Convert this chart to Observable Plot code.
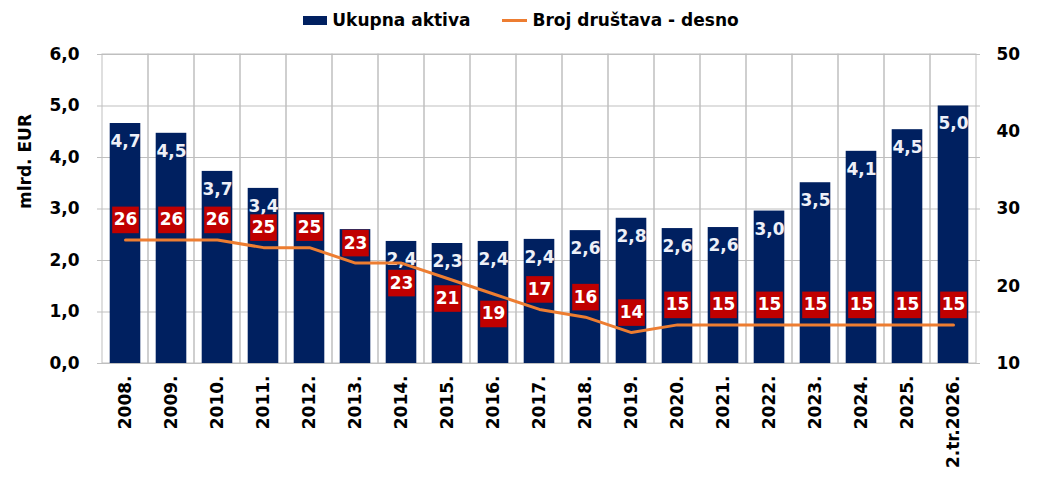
<!DOCTYPE html>
<html><head><meta charset="utf-8">
<script src="https://cdn.jsdelivr.net/npm/d3@7"></script>
<script src="https://cdn.jsdelivr.net/npm/@observablehq/plot@0.6"></script>
<style>
body{margin:0;background:#fff;font-family:"DejaVu Sans",sans-serif;}
#legend{height:40px;width:1040px;display:flex;justify-content:center;align-items:center;font-weight:700;font-size:17px;color:#000;padding-left:2px;box-sizing:border-box;}
.item{display:flex;align-items:center;}
.sw-bar{width:24px;height:9px;background:#002060;margin-right:5px;}
.sw-line{width:25px;height:3px;background:#ED7D31;margin-right:5px;margin-left:32px;}
</style></head><body>
<div id="legend">
  <div class="item"><div class="sw-bar"></div><span>Ukupna aktiva</span></div>
  <div class="item"><div class="sw-line"></div><span>Broj društava - desno</span></div>
</div>
<div id="chart"></div>
<script>
const categories = ["2008.","2009.","2010.","2011.","2012.","2013.","2014.","2015.","2016.","2017.","2018.","2019.","2020.","2021.","2022.","2023.","2024.","2025.","2.tr.2026."];
const assets = [4.66,4.47,3.73,3.40,2.93,2.60,2.37,2.33,2.37,2.41,2.58,2.82,2.62,2.64,2.96,3.51,4.12,4.54,5.0];
const companies = [26,26,26,25,25,23,23,21,19,17,16,14,15,15,15,15,15,15,15];
const belowLabels = ["2014.","2015.","2016."];
const leftTicks = [0,1,2,3,4,5,6];
const rightTicks = [10,20,30,40,50];

const FONT = "DejaVu Sans";
const rightDomain = [10,50];
const toLeft = n => (n - rightDomain[0]) / (rightDomain[1] - rightDomain[0]) * 6;
const fromLeft = v => Math.round(v / 6 * (rightDomain[1] - rightDomain[0]) + rightDomain[0]);
const fmt = v => v.toFixed(1).replace(".", ",");

// pixel offsets converted to y units (frame is 309px tall for 6 units)
const pxPerUnit = 309 / 6;
const barLabelOff = 18, boxOff = 20;

const data = categories.map((c, i) => {
  const below = belowLabels.includes(c);
  const ny = toLeft(companies[i]);
  const labelY = assets[i] - barLabelOff / pxPerUnit;
  const boxY = ny + (below ? -boxOff : boxOff) / pxPerUnit;
  const hidden = Math.abs(labelY - boxY) < 18 / pxPerUnit; // value label covered by the red box
  return {cat: c, assets: assets[i], n: companies[i], ny, below, hidden};
});

const chart = Plot.plot({
  width: 1040, height: 444,
  marginTop: 14, marginBottom: 121, marginLeft: 97, marginRight: 60,
  x: {domain: categories, padding: 0, axis: null},
  y: {domain: [0, 6], axis: null},
  style: {fontFamily: FONT, fontWeight: 700, fontSize: "17px", color: "#000", background: "#fff"},
  marks: [
    Plot.ruleY(leftTicks, {stroke: "#BFBFBF", strokeWidth: 1}),
    Plot.cell(categories, {x: d => d, fill: "none", stroke: "#BFBFBF", strokeWidth: 1, inset: 0}),
    Plot.barY(data, {x: "cat", y: "assets", fill: "#002060", insetLeft: 7.7, insetRight: 7.7}),
    Plot.text(data.filter(d => !d.hidden), {x: "cat", y: "assets", text: d => fmt(d.assets), dy: barLabelOff, fill: "#EEF0F8", fontSize: 17, fontWeight: 700}),
    Plot.line(data, {x: "cat", y: "ny", stroke: "#ED7D31", strokeWidth: 3}),
    Plot.dot(data.filter(d => !d.below), {x: "cat", y: "ny", dy: -boxOff, symbol: "square", r: 15, fill: "#C00000", stroke: "none"}),
    Plot.dot(data.filter(d => d.below), {x: "cat", y: "ny", dy: boxOff, symbol: "square", r: 15, fill: "#C00000", stroke: "none"}),
    Plot.text(data.filter(d => !d.below), {x: "cat", y: "ny", dy: -boxOff, text: d => String(d.n), fill: "#FFFFFF", fontSize: 17, fontWeight: 700}),
    Plot.text(data.filter(d => d.below), {x: "cat", y: "ny", dy: boxOff, text: d => String(d.n), fill: "#FFFFFF", fontSize: 17, fontWeight: 700}),
    Plot.axisY(leftTicks, {anchor: "left", tickSize: 0, tickPadding: 18, tickFormat: fmt, fontSize: 17, fontWeight: 700, label: null}),
    Plot.axisY(rightTicks.map(toLeft), {anchor: "right", tickSize: 0, tickPadding: 16, tickFormat: d => String(fromLeft(d)), fontSize: 17, fontWeight: 700, label: null}),
    Plot.axisX({tickRotate: -90, tickSize: 0, tickPadding: 12, fontSize: 17, fontWeight: 700, label: null}),
    Plot.text(["mlrd. EUR"], {frameAnchor: "left", rotate: -90, dx: -72, text: d => d, fontSize: 17, fontWeight: 700, fill: "#000"})
  ]
});
document.getElementById("chart").appendChild(chart);
</script>
</body></html>
